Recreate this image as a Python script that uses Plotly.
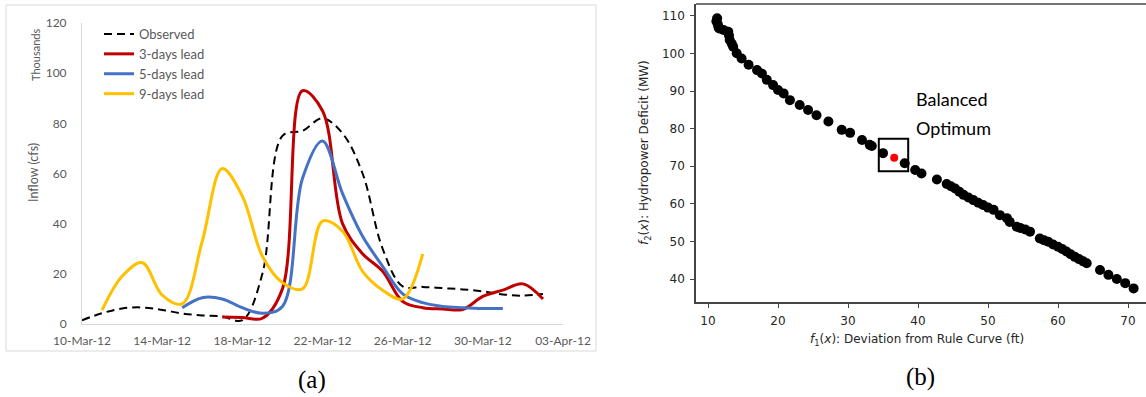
import plotly.graph_objects as go

W, H = 1146, 397
def px(x): return x / W
def py(y): return 1 - y / H

# ---------------- Panel (a) data (thousands of cfs) ----------------
obs_dates = ["2012-03-10","2012-03-11","2012-03-12","2012-03-13","2012-03-14","2012-03-15",
             "2012-03-16","2012-03-17","2012-03-18","2012-03-19","2012-03-20","2012-03-21",
             "2012-03-22","2012-03-23","2012-03-24","2012-03-25","2012-03-26","2012-03-27",
             "2012-03-28","2012-03-29","2012-03-30","2012-03-31","2012-04-01","2012-04-02"]
obs_vals = [1.5, 4.3, 6.2, 6.6, 5.6, 4.2, 3.4, 3.0, 1.5, 20, 75, 77,
            82, 76, 60, 30, 15, 14.8, 14.3, 13.8, 13.0, 11.8, 11.3, 12.0]

lead3_dates = ["2012-03-17","2012-03-18","2012-03-19","2012-03-20","2012-03-21","2012-03-22",
               "2012-03-23","2012-03-24","2012-03-25","2012-03-26","2012-03-27","2012-03-28",
               "2012-03-29","2012-03-30","2012-03-31","2012-04-01","2012-04-02"]
lead3_vals = [2.8, 2.6, 2.3, 14, 93, 85, 40, 28, 21, 9, 6.5, 6.0, 5.8, 11, 13.5, 16, 10]

lead5_dates = ["2012-03-15","2012-03-16","2012-03-17","2012-03-18","2012-03-19","2012-03-20",
               "2012-03-21","2012-03-22","2012-03-23","2012-03-24","2012-03-25","2012-03-26",
               "2012-03-27","2012-03-28","2012-03-29","2012-03-30","2012-03-31"]
lead5_vals = [6.5, 10.5, 10.0, 6.5, 4.3, 7.0, 58, 73, 52, 35, 23, 12, 8.5, 7.0, 6.5, 6.2, 6.2]

lead9_dates = ["2012-03-11","2012-03-12","2012-03-13","2012-03-14","2012-03-15","2012-03-16",
               "2012-03-17","2012-03-18","2012-03-19","2012-03-20","2012-03-21","2012-03-22",
               "2012-03-23","2012-03-24","2012-03-25","2012-03-26","2012-03-27"]
lead9_vals = [5.5, 19, 24.5, 11.5, 8.0, 33, 62, 51, 27, 16.5, 14, 41, 37, 21, 13.5, 10, 28]

a_xtick_vals = ["2012-03-10","2012-03-14","2012-03-18","2012-03-22","2012-03-26","2012-03-30","2012-04-03"]
a_xtick_text = ["10-Mar-12","14-Mar-12","18-Mar-12","22-Mar-12","26-Mar-12","30-Mar-12","03-Apr-12"]
a_ytick_vals = [0, 20, 40, 60, 80, 100, 120]

# ---------------- Panel (b) data ----------------
f1 = [11.3, 11.2, 11.4, 11.5, 11.6, 12.2, 12.9, 13.0, 13.1, 13.4, 13.6, 14.1, 14.8, 15.8,
      17.0, 17.7, 18.4, 19.3, 20.0, 20.8, 21.7, 23.1, 24.3, 25.5, 27.2, 29.1, 30.3, 32.0,
      33.1, 33.4, 35.0, 38.1, 39.6, 40.5, 42.7, 44.1, 44.7, 45.3, 45.9, 46.5, 47.2, 47.9,
      48.6, 49.3, 50.0, 50.8, 51.7, 52.7, 53.1, 54.1, 54.6, 55.3, 56.0, 57.4, 58.0, 58.6,
      59.3, 60.0, 60.6, 61.2, 61.8, 62.4, 63.0, 63.6, 64.1, 66.0, 67.2, 68.4, 69.6, 70.8]
f2 = [109.4, 108.6, 107.8, 107.0, 106.7, 106.3, 105.8, 104.8, 103.6, 102.6, 101.8, 100.1, 98.7, 97.0,
      95.6, 94.7, 93.0, 91.6, 90.3, 89.4, 87.6, 86.3, 85.0, 83.6, 81.9, 79.7, 78.9, 77.0,
      75.7, 75.4, 73.5, 70.8, 69.0, 68.1, 66.5, 65.3, 64.7, 64.1, 63.2, 62.4, 61.7, 61.0,
      60.3, 59.7, 59.0, 58.4, 57.0, 56.2, 55.2, 53.9, 53.6, 53.2, 52.6, 50.8, 50.3, 49.9,
      49.2, 48.6, 48.0, 47.3, 46.6, 45.9, 45.3, 44.7, 44.2, 42.4, 41.1, 40.0, 38.9, 37.5]
opt_f1 = [36.6]
opt_f2 = [72.3]
box_f1 = [34.4, 38.6]
box_f2 = [68.7, 77.3]
b_xticks = [10, 20, 30, 40, 50, 60, 70]
b_yticks = [40, 50, 60, 70, 80, 90, 100, 110]

fig = go.Figure()

fig.add_trace(go.Scatter(x=obs_dates, y=obs_vals, mode="lines", name="Observed",
                         line=dict(color="black", width=2, dash="8px,5px", shape="spline", smoothing=1.0),
                         xaxis="x", yaxis="y"))
fig.add_trace(go.Scatter(x=lead3_dates, y=lead3_vals, mode="lines", name="3-days lead",
                         line=dict(color="#C00000", width=3, shape="spline", smoothing=1.0),
                         xaxis="x", yaxis="y"))
fig.add_trace(go.Scatter(x=lead5_dates, y=lead5_vals, mode="lines", name="5-days lead",
                         line=dict(color="#4472C4", width=3, shape="spline", smoothing=1.0),
                         xaxis="x", yaxis="y"))
fig.add_trace(go.Scatter(x=lead9_dates, y=lead9_vals, mode="lines", name="9-days lead",
                         line=dict(color="#FFC000", width=3, shape="spline", smoothing=1.0),
                         xaxis="x", yaxis="y"))

fig.add_trace(go.Scatter(x=f1, y=f2, mode="markers", showlegend=False,
                         marker=dict(color="black", size=10, line=dict(width=0)),
                         xaxis="x2", yaxis="y2"))
fig.add_trace(go.Scatter(x=opt_f1, y=opt_f2, mode="markers", showlegend=False,
                         marker=dict(color="#FF0000", size=8, line=dict(width=0)),
                         xaxis="x2", yaxis="y2"))

tick_font_a = dict(family="Lato", size=12, color="#595959")
tick_font_b = dict(family="DejaVu Sans", size=12, color="#262626")

fig.update_layout(
    template="none",
    width=W, height=H, autosize=False, margin=dict(l=0, r=0, t=0, b=0, pad=0, autoexpand=False),
    paper_bgcolor="white", plot_bgcolor="white",
    showlegend=True,
    legend=dict(x=px(99), y=py(19), xanchor="left", yanchor="top",
                font=dict(family="Lato", size=13, color="#595959"),
                bgcolor="rgba(0,0,0,0)", borderwidth=0, tracegroupgap=0, itemwidth=30),
    xaxis=dict(domain=[px(82), px(563)], range=["2012-03-10", "2012-04-03"], type="date",
               tickvals=a_xtick_vals, ticktext=a_xtick_text, tickfont=tick_font_a, automargin=False,
               showgrid=False, zeroline=False, showline=True, linecolor="#D9D9D9", linewidth=1,
               ticks="", ticklabelstandoff=6, anchor="y"),
    yaxis=dict(domain=[py(324), py(23)], range=[0, 120], tickvals=a_ytick_vals, automargin=False,
               tickfont=tick_font_a, showgrid=False, zeroline=False, showline=True,
               linecolor="#D9D9D9", linewidth=1, ticks="", ticklabelstandoff=12, anchor="x"),
    xaxis2=dict(domain=[px(696), 1.0], range=[8.286, 72.57], tickvals=b_xticks, automargin=False,
                tickfont=tick_font_b, showgrid=False, zeroline=False, showline=True,
                linecolor="#444444", linewidth=1.5, ticks="outside", ticklen=4, tickwidth=1,
                tickcolor="#444444", ticklabelstandoff=3, anchor="y2"),
    yaxis2=dict(domain=[py(302), py(4)], range=[33.88, 113.19], tickvals=b_yticks, automargin=False,
                tickfont=tick_font_b, showgrid=False, zeroline=False, showline=True,
                linecolor="#444444", linewidth=1.5, ticks="outside", ticklen=4, tickwidth=1,
                tickcolor="#444444", ticklabelstandoff=3, anchor="x2"),
)

shapes = [
    dict(type="rect", xref="paper", yref="paper", x0=px(6), x1=px(596), y0=py(351), y1=py(5),
         line=dict(color="#D9D9D9", width=1), fillcolor="rgba(0,0,0,0)", layer="below"),
    dict(type="line", xref="x2 domain", yref="y2 domain", x0=0, x1=1, y0=1, y1=1,
         line=dict(color="#444444", width=1.5)),
    dict(type="rect", xref="x2", yref="y2", x0=box_f1[0], x1=box_f1[1], y0=box_f2[0], y1=box_f2[1],
         line=dict(color="black", width=2), fillcolor="rgba(0,0,0,0)"),
]
fig.update_layout(shapes=shapes)

def ann(text, x, y, size, family, color, angle=0, xanchor="center"):
    return dict(text=text, x=px(x), y=py(y), xref="paper", yref="paper", textangle=angle,
                xanchor=xanchor, yanchor="middle", showarrow=False,
                font=dict(family=family, size=size, color=color))

annotations = [
    ann("Thousands", 35, 55, 11, "Lato", "#595959", -90),
    ann("Inflow (cfs)", 33, 173, 12.5, "Lato", "#595959", -90),
    ann("(a)", 312, 380, 25, "Liberation Serif", "black"),
    ann("(b)", 920, 377, 25, "Liberation Serif", "black"),
    ann("<i>f</i><sub>2</sub>(<i>x</i>): Hydropower Deficit (MW)", 645, 153, 12, "DejaVu Sans", "#262626", -90),
    ann("<i>f</i><sub>1</sub>(<i>x</i>): Deviation from Rule Curve (ft)", 917, 340, 12, "DejaVu Sans", "#262626"),
    ann("Balanced", 914, 99, 18, "Lato", "black", 0, "left"),
    ann("Optimum", 914, 128, 18, "Lato", "black", 0, "left"),
]
fig.update_layout(annotations=annotations)

fig.write_html("out.html", config={"displayModeBar": False},
               post_script="document.body.style.margin='0';document.body.style.padding='0';")
